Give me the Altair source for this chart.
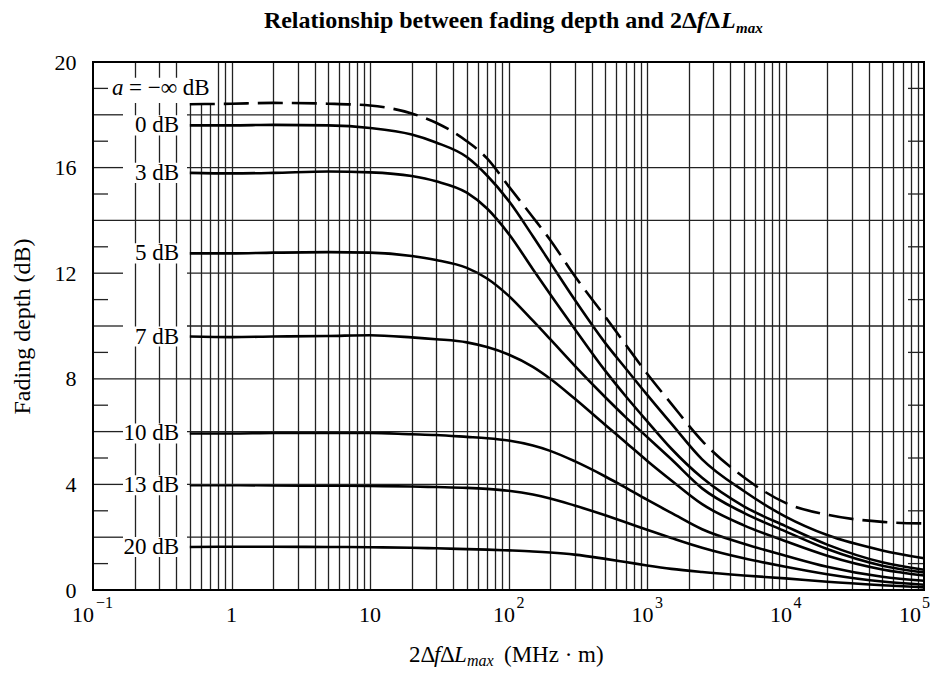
import altair as alt
import pandas as pd

FONT = "Liberation Serif"
W, H = 831, 528

# ---------------- data ----------------
X = [0.5, 1, 2, 5, 10, 20, 30, 50, 70, 100, 150, 200, 300, 500, 700,
     1000, 1500, 2500, 5000, 10000, 20000, 50000, 100000]

A_INF = [18.4, 18.42, 18.45, 18.42, 18.35, 18.05, 17.7, 17.0, 16.35, 15.3, 14.12, 13.26,
         11.9, 10.35, 9.3, 8.2, 7.05, 5.65, 4.27, 3.3, 2.85, 2.58, 2.52]
A_0 = [17.6, 17.6, 17.62, 17.6, 17.5, 17.25, 16.95, 16.4, 15.7, 14.75, 13.4, 12.4,
       11.0, 9.35, 8.4, 7.4, 6.3, 4.95, 3.75, 2.78, 2.08, 1.5, 1.2]
A_3 = [15.8, 15.78, 15.8, 15.85, 15.82, 15.68, 15.48, 15.05, 14.45, 13.5, 12.15, 11.2,
       9.9, 8.3, 7.35, 6.4, 5.35, 4.25, 3.17, 2.42, 1.72, 1.05, 0.77]
A_5 = [12.75, 12.75, 12.78, 12.8, 12.78, 12.65, 12.5, 12.2, 11.8, 11.15, 10.2, 9.5,
       8.5, 7.3, 6.55, 5.8, 4.95, 3.85, 2.92, 2.22, 1.55, 0.92, 0.66]
A_7 = [9.6, 9.58, 9.6, 9.62, 9.65, 9.57, 9.5, 9.38, 9.2, 8.92, 8.45, 8.0,
       7.25, 6.25, 5.6, 4.9, 4.15, 3.25, 2.45, 1.85, 1.3, 0.78, 0.55]
A_10 = [5.93, 5.93, 5.95, 5.95, 5.95, 5.9, 5.87, 5.8, 5.75, 5.66, 5.47, 5.27,
        4.88, 4.3, 3.88, 3.42, 2.92, 2.3, 1.75, 1.3, 0.88, 0.5, 0.35]
A_13 = [3.97, 3.97, 3.96, 3.95, 3.94, 3.92, 3.9, 3.87, 3.83, 3.76, 3.62, 3.47,
        3.2, 2.83, 2.57, 2.28, 1.97, 1.6, 1.2, 0.88, 0.6, 0.32, 0.2]
A_20 = [1.63, 1.64, 1.64, 1.63, 1.62, 1.6, 1.58, 1.55, 1.53, 1.5, 1.46, 1.42,
        1.34, 1.18, 1.06, 0.93, 0.8, 0.68, 0.55, 0.44, 0.31, 0.18, 0.1]

SOLID_NAMES = ["0 dB", "3 dB", "5 dB", "7 dB", "10 dB", "13 dB", "20 dB"]
SOLID_VALUES = [A_0, A_3, A_5, A_7, A_10, A_13, A_20]

Y_TICKS = [0, 4, 8, 12, 16, 20]
H_FULL = [8, 14]
H_BROKEN = [2, 4, 6, 10, 12, 16, 18]
ODD_TICKS = [1, 3, 5, 7, 9, 11, 13, 15, 17, 19]
GRID_DECADES = [0.1, 1, 10, 100, 1000, 10000]
GRID_MULT = [1, 2, 3, 4, 5, 6, 7, 8, 9]

TICK_X = [0.1, 1, 10, 100, 1000, 10000, 100000]
TICK_BASE = ["10", "1", "10", "10", "10", "10", "10"]
TICK_EXP = ["\u22121", "", "", "2", "3", "4", "5"]

A_LABEL_Y = 19

# ---------------- tables ----------------
rows = []
for name, vals in zip(SOLID_NAMES, SOLID_VALUES):
    for x, v in zip(X, vals):
        rows.append({"series": name, "x": x, "v": v})
solid_df = pd.DataFrame(rows)
inf_df = pd.DataFrame({"x": X, "v": A_INF})
labels_df = pd.DataFrame({"label": SOLID_NAMES, "y": [vals[0] for vals in SOLID_VALUES]})
grid_x = [round(d * m, 6) for d in GRID_DECADES for m in GRID_MULT if d * m > 0.1 + 1e-9]
ticks_df = pd.DataFrame({"x": TICK_X, "base": TICK_BASE, "exp": TICK_EXP})

xs = alt.Scale(type="log", domain=[0.1, 100000], nice=False)
ys = alt.Scale(domain=[0, 20], nice=False)
GRID_C = "#222222"

X_AX = alt.Axis(values=grid_x, grid=True, gridColor=GRID_C, gridWidth=1.3, gridOpacity=1,
                labels=False, ticks=False, domain=False, title=None)
Y_AX = alt.Axis(values=Y_TICKS, grid=False, ticks=False, tickSize=0, domain=False,
                labelFont=FONT, labelFontSize=22, labelColor="black",
                labelPadding=17, labelFlush=False,
                title="Fading depth (dB)", titleFont=FONT, titleFontSize=24,
                titleFontWeight="normal", titleColor="black", titlePadding=20)


def XF(field):
    return alt.X(field, scale=xs, axis=X_AX)


def YF(field):
    return alt.Y(field, scale=ys, axis=Y_AX)


# ---------------- layers ----------------
curves = alt.Chart(solid_df).mark_line(color="black", strokeWidth=2.6, interpolate="monotone").encode(
    x=XF("x:Q"), y=YF("v:Q"), detail="series:N")

dashed = alt.Chart(inf_df).mark_line(color="black", strokeWidth=2.6, strokeDash=[25, 9],
                                     interpolate="monotone").encode(x=XF("x:Q"), y=YF("v:Q"))

masks = alt.Chart(labels_df).transform_calculate(
    y0="datum.y - 0.38", y1="datum.y + 0.38"
).mark_rect(color="white").encode(
    x=alt.value(30), x2=alt.value(94), y=YF("y0:Q"), y2="y1:Q")

a_df = pd.DataFrame({"y": [A_LABEL_Y]})
mask_a1 = alt.Chart(a_df).transform_calculate(y0="datum.y - 0.55", y1="datum.y + 0.4").mark_rect(
    color="white").encode(x=alt.value(17), x2=alt.value(120), y=YF("y0:Q"), y2="y1:Q")
mask_a2 = alt.Chart(a_df).transform_calculate(y0="datum.y - 0.55", y1="20").mark_rect(
    color="white").encode(x=alt.value(93), x2=alt.value(120), y=YF("y0:Q"), y2="y1:Q")

h_full = alt.Chart(pd.DataFrame({"h": H_FULL})).mark_rule(color=GRID_C, strokeWidth=1.3).encode(
    y=YF("h:Q"), x=alt.value(0), x2=alt.value(W))
h_left = alt.Chart(pd.DataFrame({"h": H_BROKEN})).mark_rule(color=GRID_C, strokeWidth=1.3).encode(
    y=YF("h:Q"), x=alt.value(0), x2=alt.value(30))
h_right = alt.Chart(pd.DataFrame({"h": H_BROKEN})).mark_rule(color=GRID_C, strokeWidth=1.3).encode(
    y=YF("h:Q"), x=alt.value(94), x2=alt.value(W))
odd_left = alt.Chart(pd.DataFrame({"h": ODD_TICKS})).mark_rule(color=GRID_C, strokeWidth=1.3).encode(
    y=YF("h:Q"), x=alt.value(0), x2=alt.value(15))
odd_right = alt.Chart(pd.DataFrame({"h": ODD_TICKS})).mark_rule(color=GRID_C, strokeWidth=1.3).encode(
    y=YF("h:Q"), x=alt.value(W - 16), x2=alt.value(W))

curve_labels = alt.Chart(labels_df).mark_text(font=FONT, fontSize=23, align="right", baseline="middle",
                                              color="black").encode(
    x=alt.value(86), y=YF("y:Q"), text="label:N")

a_italic = alt.Chart(pd.DataFrame({"y": [A_LABEL_Y], "t": ["a"]})).mark_text(
    font=FONT, fontSize=23, fontStyle="italic", align="left", baseline="middle", color="black").encode(
    x=alt.value(19), y=YF("y:Q"), text="t:N")
a_rest = alt.Chart(pd.DataFrame({"y": [A_LABEL_Y], "t": ["= \u2212\u221e dB"]})).mark_text(
    font=FONT, fontSize=23, align="left", baseline="middle", color="black").encode(
    x=alt.value(36), y=YF("y:Q"), text="t:N")

# x tick labels (base + superscript exponent)
BASE_Y, EXP_Y = 560, 546


def tick_layer(cond, field, size, align, dx, y):
    return alt.Chart(ticks_df).transform_filter(cond).mark_text(
        font=FONT, fontSize=size, align=align, baseline="alphabetic", dx=dx, color="black").encode(
        x=XF("x:Q"), y=alt.value(y), text=field)


tick_layers = [
    tick_layer("datum.exp == ''", "base:N", 22, "center", 0, BASE_Y),
    tick_layer("datum.exp != '' && datum.x >= 1 && datum.x < 100000", "base:N", 22, "right", 6.5, BASE_Y),
    tick_layer("datum.exp != '' && datum.x >= 1 && datum.x < 100000", "exp:N", 16, "left", 8, EXP_Y),
    tick_layer("datum.x < 1", "base:N", 22, "right", 1, BASE_Y),
    tick_layer("datum.x < 1", "exp:N", 16, "left", 3, EXP_Y),
    tick_layer("datum.x >= 100000", "base:N", 22, "right", -3, BASE_Y),
    tick_layer("datum.x >= 100000", "exp:N", 16, "left", -2, EXP_Y),
]


def piece(text, x, y, size, style="normal", weight="normal", align="left"):
    return alt.Chart(alt.Data(values=[{"t": text}])).mark_text(
        font=FONT, fontSize=size, fontStyle=style, fontWeight=weight, align=align,
        baseline="alphabetic", color="black").encode(x=alt.value(x), y=alt.value(y), text="t:N")


# title: Relationship between fading depth and 2ΔfΔL_max
TY = -34
title_parts = [
    piece("Relationship between fading depth and 2\u0394", 604, TY, 24, weight="bold", align="right"),
    piece("f", 604, TY, 24, style="italic", weight="bold"),
    piece("\u0394", 612, TY, 24, weight="bold"),
    piece("L", 628, TY, 24, style="italic", weight="bold"),
    piece("max", 643, TY + 5, 15, style="italic", weight="bold"),
]

# x-axis title: 2ΔfΔL_max (MHz · m)
XY = 600
xtitle_parts = [
    piece("2\u0394", 316, XY, 23),
    piece("f", 341, XY, 23, style="italic"),
    piece("\u0394", 347, XY, 23),
    piece("L", 361, XY, 23, style="italic"),
    piece("max", 374, XY + 4, 16, style="italic"),
    piece("(MHz \u00b7 m)", 411, XY, 23),
]

frame = alt.Chart(alt.Data(values=[{"t": 1}])).mark_rect(filled=False, stroke="black", strokeWidth=2).encode(
    x=alt.value(0), x2=alt.value(W), y=alt.value(0), y2=alt.value(H))

chart = alt.layer(
    curves, masks, mask_a1, mask_a2, h_full, h_left, h_right, odd_left, odd_right,
    dashed, curve_labels, a_italic, a_rest,
    *tick_layers, *title_parts, *xtitle_parts, frame,
).properties(
    width=W, height=H,
    padding={"left": 85, "top": 54, "right": 6, "bottom": 79},
    autosize=alt.AutoSizeParams(type="none"),
    background="white",
).configure_view(stroke=None)

chart.save("out.html", embed_options={"renderer": "svg", "actions": False})
